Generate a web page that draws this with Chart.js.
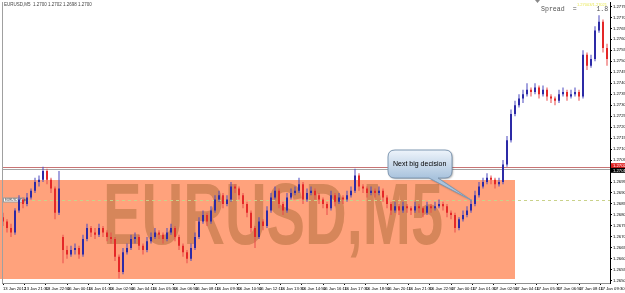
<!DOCTYPE html>
<html><head><meta charset="utf-8">
<script src="https://cdn.jsdelivr.net/npm/chart.js@4/dist/chart.umd.min.js"></script>
<style>html,body{margin:0;padding:0;background:#fff;overflow:hidden}canvas{display:block}</style>
</head><body>
<canvas id="c" width="625" height="293"></canvas>
<script>
// ---------- DATA ----------
const timeLabels = ["13 Jan 2012","13 Jan 21:30","13 Jan 22:50","16 Jan 00:10","16 Jan 01:30","16 Jan 02:50","16 Jan 04:10","16 Jan 05:30","16 Jan 06:50","16 Jan 08:10","16 Jan 09:30","16 Jan 10:50","16 Jan 12:10","16 Jan 13:30","16 Jan 14:50","16 Jan 16:10","16 Jan 17:30","16 Jan 18:50","16 Jan 20:10","16 Jan 21:30","16 Jan 22:50","17 Jan 00:10","17 Jan 01:30","17 Jan 02:50","17 Jan 04:10","17 Jan 05:30","17 Jan 06:50","17 Jan 08:10","17 Jan 09:30"];
const barsPerLabel = 16/3; // 15-minute candles between 80-minute time labels

const opens = [1.2679,1.2677,1.2674,1.2672,1.2682,1.2687,1.2685,1.2688,1.2691,1.2695,
1.2696,1.2700,1.2696,1.2692,1.2681,1.2670,1.2664,1.2662,1.2664,1.2665,
1.2662,1.2669,1.2674,1.2672,1.2671,1.2674,1.2672,1.2670,1.2669,1.2661,
1.2654,1.2663,1.2665,1.2669,1.2670,1.2666,1.2664,1.2668,1.2670,1.2672,
1.2671,1.2669,1.2672,1.2674,1.2670,1.2666,1.2663,1.2660,1.2665,1.2670,
1.2677,1.2680,1.2677,1.2682,1.2687,1.2689,1.2685,1.2687,1.2693,1.2692,
1.2689,1.2685,1.2681,1.2674,1.2670,1.2677,1.2675,1.2682,1.2688,1.2691,
1.2685,1.2682,1.2688,1.2690,1.2691,1.2694,1.2687,1.2690,1.2691,1.2689,
1.2687,1.2685,1.2683,1.2689,1.2686,1.2688,1.2687,1.2689,1.2691,1.2698,
1.2693,1.2692,1.2690,1.2691,1.2690,1.2691,1.2688,1.2685,1.2682,1.2684,
1.2682,1.2684,1.2683,1.2682,1.2684,1.2683,1.2681,1.2684,1.2683,1.2684,
1.2685,1.2684,1.2681,1.2680,1.2674,1.2678,1.2680,1.2682,1.2685,1.2689,
1.2693,1.2695,1.2697,1.2696,1.2694,1.2695,1.2703,1.2714,1.2726,1.2730,
1.2733,1.2735,1.2737,1.2736,1.2738,1.2735,1.2737,1.2734,1.2733,1.2732,
1.2735,1.2736,1.2734,1.2735,1.2736,1.2734,1.2753,1.2748,1.2751,1.2764,
1.2768,1.2756];
const highs = [1.2681,1.2678,1.2676,1.2683,1.2689,1.2688,1.2690,1.2692,1.2697,1.2698,
1.2702,1.2701,1.2697,1.2693,1.2700,1.2671,1.2666,1.2666,1.2667,1.2666,
1.2671,1.2676,1.2675,1.2674,1.2676,1.2675,1.2673,1.2672,1.2670,1.2662,
1.2665,1.2667,1.2671,1.2672,1.2671,1.2667,1.2670,1.2672,1.2674,1.2673,
1.2672,1.2674,1.2676,1.2675,1.2671,1.2667,1.2664,1.2667,1.2672,1.2679,
1.2682,1.2681,1.2684,1.2689,1.2691,1.2690,1.2689,1.2695,1.2694,1.2693,
1.2690,1.2686,1.2682,1.2675,1.2679,1.2678,1.2684,1.2690,1.2693,1.2692,
1.2686,1.2690,1.2692,1.2693,1.2697,1.2695,1.2692,1.2693,1.2692,1.2690,
1.2688,1.2686,1.2691,1.2690,1.2690,1.2689,1.2691,1.2693,1.2701,1.2699,
1.2694,1.2693,1.2693,1.2692,1.2693,1.2692,1.2689,1.2686,1.2686,1.2685,
1.2686,1.2685,1.2684,1.2686,1.2685,1.2684,1.2686,1.2685,1.2686,1.2687,
1.2686,1.2685,1.2682,1.2681,1.2679,1.2682,1.2684,1.2687,1.2691,1.2695,
1.2697,1.2699,1.2698,1.2697,1.2697,1.2705,1.2716,1.2728,1.2732,1.2735,
1.2737,1.2740,1.2738,1.2740,1.2739,1.2739,1.2738,1.2735,1.2734,1.2737,
1.2738,1.2737,1.2737,1.2738,1.2737,1.2755,1.2754,1.2753,1.2766,1.2771,
1.2769,1.2758];
const lows = [1.2675,1.2672,1.2670,1.2671,1.2681,1.2683,1.2684,1.2687,1.2690,1.2693,
1.2695,1.2694,1.2690,1.2678,1.2680,1.2658,1.2660,1.2661,1.2662,1.2660,
1.2661,1.2668,1.2670,1.2669,1.2670,1.2670,1.2668,1.2667,1.2659,1.2651,
1.2653,1.2662,1.2664,1.2667,1.2664,1.2662,1.2663,1.2667,1.2669,1.2669,
1.2667,1.2668,1.2671,1.2668,1.2664,1.2661,1.2658,1.2659,1.2664,1.2669,
1.2676,1.2675,1.2676,1.2681,1.2686,1.2683,1.2684,1.2686,1.2690,1.2687,
1.2683,1.2679,1.2672,1.2665,1.2669,1.2673,1.2674,1.2681,1.2687,1.2683,
1.2680,1.2681,1.2687,1.2689,1.2690,1.2685,1.2686,1.2689,1.2687,1.2685,
1.2683,1.2680,1.2682,1.2684,1.2685,1.2685,1.2686,1.2688,1.2690,1.2691,
1.2690,1.2688,1.2689,1.2688,1.2689,1.2686,1.2683,1.2680,1.2681,1.2680,
1.2681,1.2681,1.2680,1.2681,1.2681,1.2679,1.2680,1.2681,1.2682,1.2683,
1.2682,1.2679,1.2678,1.2672,1.2673,1.2677,1.2679,1.2681,1.2684,1.2688,
1.2692,1.2694,1.2694,1.2692,1.2693,1.2694,1.2702,1.2713,1.2725,1.2729,
1.2731,1.2734,1.2734,1.2735,1.2733,1.2734,1.2732,1.2731,1.2730,1.2731,
1.2734,1.2732,1.2733,1.2734,1.2732,1.2733,1.2746,1.2747,1.2750,1.2763,
1.2754,1.2748];
const closes = [1.2677,1.2674,1.2672,1.2682,1.2687,1.2685,1.2688,1.2691,1.2695,1.2696,
1.2700,1.2696,1.2692,1.2681,1.2692,1.2664,1.2662,1.2664,1.2665,1.2662,
1.2669,1.2674,1.2672,1.2671,1.2674,1.2672,1.2670,1.2669,1.2661,1.2654,
1.2663,1.2665,1.2669,1.2670,1.2666,1.2664,1.2668,1.2670,1.2672,1.2671,
1.2669,1.2672,1.2674,1.2670,1.2666,1.2663,1.2660,1.2665,1.2670,1.2677,
1.2680,1.2677,1.2682,1.2687,1.2689,1.2685,1.2687,1.2693,1.2692,1.2689,
1.2685,1.2681,1.2674,1.2670,1.2677,1.2675,1.2682,1.2688,1.2691,1.2685,
1.2682,1.2688,1.2690,1.2691,1.2694,1.2687,1.2690,1.2691,1.2689,1.2687,
1.2685,1.2683,1.2689,1.2686,1.2688,1.2687,1.2689,1.2691,1.2698,1.2693,
1.2692,1.2690,1.2691,1.2690,1.2691,1.2688,1.2685,1.2682,1.2684,1.2682,
1.2684,1.2683,1.2682,1.2684,1.2683,1.2681,1.2684,1.2683,1.2684,1.2685,
1.2684,1.2681,1.2680,1.2674,1.2678,1.2680,1.2682,1.2685,1.2689,1.2693,
1.2695,1.2697,1.2696,1.2694,1.2695,1.2703,1.2714,1.2726,1.2730,1.2733,
1.2735,1.2737,1.2736,1.2738,1.2735,1.2737,1.2734,1.2733,1.2732,1.2735,
1.2736,1.2734,1.2735,1.2736,1.2734,1.2753,1.2748,1.2751,1.2764,1.2768,
1.2756,1.2751];
const yTickValues = [1.2650,1.2655,1.2660,1.2665,1.2670,1.2675,1.2680,1.2685,1.2690,1.2695,1.2700,1.2705,1.2710,1.2715,1.2720,1.2725,1.2730,1.2735,1.2740,1.2745,1.2750,1.2755,1.2760,1.2765,1.2770,1.2775];
const zoneTop = 1.2696, zoneBottom = 1.2651, zoneStartBar = -1, zoneEndBar = 128;
const resistanceLevel = 1.2702, greyLevel = 1.2701, bidLevel = 1.2687;
const watermark = "EURUSD,M5";
const calloutText = "Next big decision";
const spreadText = "Spread  =     1.8";
const titleText = "EURUSD,M5  1.2700 1.2702 1.2698 1.2700";

// ---------- CHART ----------
const UP = '#2c2aa6', DN = '#e42828';
const isUp = i => closes[i] >= opens[i];
const wickData = closes.map((_, i) => ({x: i, y: [lows[i], highs[i]]}));
const bodyData = closes.map((_, i) => ({x: i, y: [opens[i], closes[i]]}));

const fam = '"Liberation Sans", Arial, sans-serif';

const overlay = {
  id: 'overlay',
  beforeDatasetsDraw(chart) {
    const {ctx, chartArea: a, scales: {x, y}} = chart;
    ctx.save();
    const zx0 = Math.max(0, x.getPixelForValue(zoneStartBar)), zx1 = x.getPixelForValue(zoneEndBar);
    const zy0 = y.getPixelForValue(zoneTop), zy1 = y.getPixelForValue(zoneBottom);
    ctx.fillStyle = '#ffa27c';
    ctx.fillRect(Math.round(zx0), Math.round(zy0), Math.round(zx1 - zx0), Math.round(zy1 - zy0));
    ctx.save();
    ctx.font = 'bold 88px ' + fam;
    const w = ctx.measureText(watermark).width;
    ctx.translate(103, 244);
    ctx.scale(340 / w, 1);
    ctx.fillStyle = 'rgb(214,134,90)';
    ctx.textBaseline = 'alphabetic';
    ctx.fillText(watermark, 0, 0);
    ctx.restore();
    const hline = (p, col, dash) => {
      const py = Math.round(y.getPixelForValue(p)) + 0.5;
      ctx.beginPath(); ctx.setLineDash(dash || []);
      ctx.strokeStyle = col; ctx.lineWidth = 1;
      ctx.moveTo(a.left, py); ctx.lineTo(a.right, py); ctx.stroke();
      ctx.setLineDash([]);
      return py;
    };
    hline(resistanceLevel, '#c87474');
    hline(greyLevel, '#a4a4a4');
    const by = hline(bidLevel, '#c9d28a', [3, 3]);
    ctx.fillStyle = '#fff'; ctx.fillRect(3, by - 2.5, 22, 4);
    ctx.strokeStyle = '#999'; ctx.strokeRect(3.5, by - 2.5, 21, 4);
    ctx.fillStyle = '#333'; ctx.font = '3px ' + fam; ctx.textBaseline = 'middle';
    ctx.fillText('EURUSD,M5,bid', 5, by - 0.5);
    ctx.restore();
  },
  afterDraw(chart) {
    const {ctx, chartArea: a, scales: {y}} = chart;
    ctx.save();
    ctx.strokeStyle = '#a0a0a0'; ctx.lineWidth = 1;
    ctx.beginPath(); ctx.moveTo(2.5, 2); ctx.lineTo(2.5, a.bottom); ctx.stroke();
    const bx = 388, byy = 150, bw = 64, bh = 28, r = 7;
    ctx.save();
    ctx.shadowColor = 'rgba(0,0,0,0.35)'; ctx.shadowBlur = 2; ctx.shadowOffsetX = 1; ctx.shadowOffsetY = 1;
    const g = ctx.createLinearGradient(0, byy, 0, byy + bh);
    g.addColorStop(0, '#eef4fb'); g.addColorStop(1, '#a9c3dd');
    ctx.fillStyle = g; ctx.strokeStyle = '#7f98b2';
    ctx.beginPath();
    ctx.moveTo(bx + r, byy);
    ctx.lineTo(bx + bw - r, byy); ctx.quadraticCurveTo(bx + bw, byy, bx + bw, byy + r);
    ctx.lineTo(bx + bw, byy + bh - r); ctx.quadraticCurveTo(bx + bw, byy + bh, bx + bw - r, byy + bh);
    ctx.lineTo(438, byy + bh);
    ctx.lineTo(471, 200);
    ctx.lineTo(429, byy + bh);
    ctx.lineTo(bx + r, byy + bh); ctx.quadraticCurveTo(bx, byy + bh, bx, byy + bh - r);
    ctx.lineTo(bx, byy + r); ctx.quadraticCurveTo(bx, byy, bx + r, byy);
    ctx.closePath();
    ctx.fill();
    ctx.shadowColor = 'transparent';
    ctx.stroke();
    ctx.restore();
    ctx.fillStyle = '#000'; ctx.font = '7px ' + fam; ctx.textBaseline = 'middle';
    ctx.fillText(calloutText, 393, 164);
    ctx.fillStyle = '#555'; ctx.font = '6.6px "Liberation Mono", monospace';
    ctx.fillText(spreadText, 541, 9);
    ctx.fillStyle = '#e8e85a'; ctx.font = '4px ' + fam;
    ctx.fillText('1.27003/1.27021', 577, 4.5);
    ctx.fillStyle = '#444'; ctx.font = '4.5px ' + fam;
    ctx.fillText(titleText, 4, 5);
    ctx.fillStyle = '#888';
    ctx.beginPath(); ctx.moveTo(535, 0); ctx.lineTo(540, 0); ctx.lineTo(537.5, 3); ctx.closePath(); ctx.fill();
    const lab = (p, bg, dy) => {
      const py = y.getPixelForValue(p) + dy;
      ctx.fillStyle = bg; ctx.fillRect(a.right + 1, py - 2.5, 14, 5);
      ctx.fillStyle = '#fff'; ctx.font = '4.2px ' + fam; ctx.textBaseline = 'middle';
      ctx.fillText(p.toFixed(4), a.right + 3, py);
    };
    lab(resistanceLevel, '#e02020', -1);
    lab(greyLevel, '#000', 1.5);
    ctx.restore();
  }
};

new Chart(document.getElementById('c'), {
  type: 'bar',
  data: {
    datasets: [
      {data: wickData, barThickness: 1, grouped: false, inflateAmount: 0, borderWidth: 0,
       backgroundColor: c => isUp(c.dataIndex) ? '#4a48c0' : '#ea4a4a', order: 2},
      {data: bodyData, barThickness: 2, grouped: false, inflateAmount: 0, borderWidth: 0,
       backgroundColor: c => isUp(c.dataIndex) ? UP : DN, order: 1}
    ]
  },
  options: {
    responsive: false, animation: false, devicePixelRatio: 1,
    layout: {padding: {left: 2, top: 2, right: 0, bottom: 0}},
    plugins: {legend: {display: false}, tooltip: {enabled: false}},
    scales: {
      x: {
        type: 'linear', min: -0.25, max: 151.75, offset: false,
        afterBuildTicks: s => { s.ticks = timeLabels.map((t, j) => ({value: j * barsPerLabel})); },
        afterFit: s => { s.height = 10; s.paddingLeft = 0; s.paddingRight = 0; },
        ticks: {autoSkip: false, maxRotation: 0, minRotation: 0, align: 'start', padding: 1,
                color: '#000', font: {size: 4.2, family: fam},
                callback: (v, i) => timeLabels[i]},
        grid: {drawOnChartArea: false, offset: false, tickLength: 2, color: '#000'},
        border: {color: '#909090'}
      },
      y: {
        position: 'right', min: 1.2649, max: 1.2777,
        afterBuildTicks: s => { s.ticks = yTickValues.map(v => ({value: v})); },
        afterFit: s => { s.width = 15; s.paddingTop = 0; s.paddingBottom = 0; },
        ticks: {autoSkip: false, padding: 1, color: '#000', font: {size: 4.2, family: fam},
                callback: v => v.toFixed(4)},
        grid: {drawOnChartArea: false, tickLength: 2, color: '#000'},
        border: {color: '#000'}
      }
    }
  },
  plugins: [overlay]
});
</script>
</body></html>
